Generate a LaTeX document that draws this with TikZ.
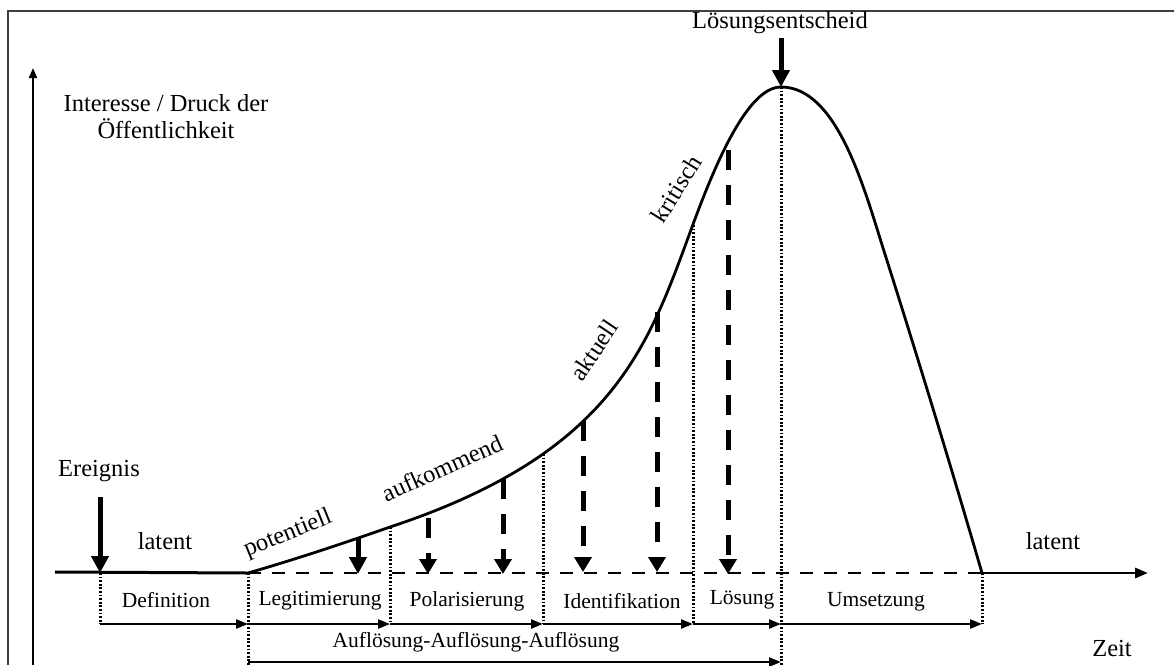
\documentclass[tikz,border=0pt]{standalone}
\usepackage{fontspec}
\setmainfont{Liberation Serif}
\usetikzlibrary{arrows.meta}
\begin{document}
\begin{tikzpicture}[x=1pt,y=-1pt,
  lbl/.style={font=\fontsize{24.5}{27}\selectfont, inner sep=0pt},
  phase/.style={font=\fontsize{21.5}{24}\selectfont, inner sep=0pt},
  curveline/.style={line width=2.8pt, line join=round},
  divider/.style={line width=3pt, dash pattern=on 1.8pt off 1.8pt},
  steparrow/.style={line width=2.4pt, -{Triangle[width=9pt,length=12pt]}},
  bigdown/.style={line width=5pt, -{Triangle[width=17pt,length=17pt]}},
  dashdown/.style={line width=5pt, dash pattern=on 20pt off 15pt, -{Triangle[width=17pt,length=15pt]}},
]
\useasboundingbox (0,0) rectangle (1174,665);

% frame
\draw[line width=2pt, black!75] (8,665) -- (8,11) -- (1174,11);

% axes
\coordinate (yfoot) at (33,665);
\coordinate (ytip) at (33,68);
\draw[line width=2pt, -{Triangle[width=8pt,length=10pt]}] (yfoot) -- (ytip);

\coordinate (x0) at (55,572);
\coordinate (d0) at (100,573);
\coordinate (d1) at (248,573);
\coordinate (d6) at (982,573);
\coordinate (xtip) at (1148,573);
\draw[line width=3pt] (x0) -- (d1);
\draw[line width=2.8pt, dash pattern=on 13pt off 11pt] (d1) -- (d6);
\draw[line width=2.8pt, -{Triangle[width=10pt,length=13pt]}] (d6) -- (xtip);

% points on the curve
\coordinate (c2) at (390,527);
\coordinate (c3) at (543,454);
\coordinate (c4) at (695,219);
\coordinate (peak) at (781,87);
\coordinate (fall) at (883,248);

% issue curve
\draw[curveline] (d1)
  .. controls (300,558) and (350,541) .. (c2)
  .. controls (620,451) and (650,340) .. (c4)
  .. controls (721,149) and (751,87) .. (peak)
  .. controls (836,87) and (863,184) .. (fall)
  .. controls (916,352) and (950,463) .. (d6);

% phase dividers
\coordinate (a0) at (100,624);
\coordinate (a1) at (248,624);
\coordinate (a2) at (390,624);
\coordinate (a3) at (543,624);
\coordinate (a4) at (693,624);
\coordinate (a5) at (781,624);
\coordinate (a6) at (982,624);
\coordinate (b1) at (248,665);
\coordinate (b5) at (781,665);
\coordinate (c4b) at (693,225);

\draw[divider] (d0) -- (a0);
\draw[divider] (d1) -- (b1);
\draw[divider] (c2) -- (a2);
\draw[divider] (c3) -- (a3);
\draw[divider] (c4b) -- (a4);
\draw[divider] (peak) -- (b5);
\draw[divider] (d6) -- (a6);

% phase arrows
\draw[steparrow] (a0) -- (a1);
\draw[steparrow] (a1) -- (a2);
\draw[steparrow] (a2) -- (a3);
\draw[steparrow] (a3) -- (a4);
\draw[steparrow] (a4) -- (a5);
\draw[steparrow] (a5) -- (a6);
\coordinate (r1) at (248,662);
\coordinate (r5) at (781,662);
\draw[steparrow] (r1) -- (r5);

% pressure arrows
\coordinate (e0) at (100,497);
\draw[bigdown] (e0) -- (d0);
\coordinate (s0) at (781,38);
\draw[bigdown] (s0) -- (peak);

\coordinate (p1) at (358,538);  \coordinate (q1) at (358,574);
\coordinate (p2) at (428,518);  \coordinate (q2) at (428,574);
\coordinate (p3) at (503,479);  \coordinate (q3) at (503,574);
\coordinate (p4) at (583,421);  \coordinate (q4) at (583,572);
\coordinate (p5) at (657,312);  \coordinate (q5) at (657,572);
\coordinate (p6) at (728,150);  \coordinate (q6) at (728,574);
\draw[bigdown] (p1) -- (q1);
\draw[dashdown] (p2) -- (q2);
\draw[dashdown] (p3) -- (q3);
\draw[dashdown] (p4) -- (q4);
\draw[dashdown] (p5) -- (q5);
\draw[dashdown] (p6) -- (q6);

% texts
\node[lbl, align=center] (ylabel) at (166,117) {Interesse / Druck der\\Öffentlichkeit};
\node[lbl] (decision) at (780,23) {Lösungsentscheid};
\node[lbl] (event) at (99,471) {Ereignis};
\node[lbl] (latent1) at (165,541) {latent};
\node[lbl] (latent2) at (1053,541) {latent};
\node[lbl] (time) at (1112,648) {Zeit};
\node[lbl, rotate=22] (st1) at (288,534) {potentiell};
\node[lbl, rotate=24] (st2) at (442,468) {aufkommend};
\node[lbl, rotate=56] (st3) at (594,350) {aktuell};
\node[lbl, rotate=58] (st4) at (676,189) {kritisch};

\node[phase] (ph1) at (166,600) {Definition};
\node[phase] (ph2) at (320,601) {Legitimierung};
\node[phase] (ph3) at (467,601) {Polarisierung};
\node[phase] (ph4) at (622,601) {Identifikation};
\node[phase] (ph5) at (742,600) {Lösung};
\node[phase] (ph6) at (876,602) {Umsetzung};
\node[phase] (loop) at (476,642) {Auflösung-Auflösung-Auflösung};
\end{tikzpicture}
\end{document}
